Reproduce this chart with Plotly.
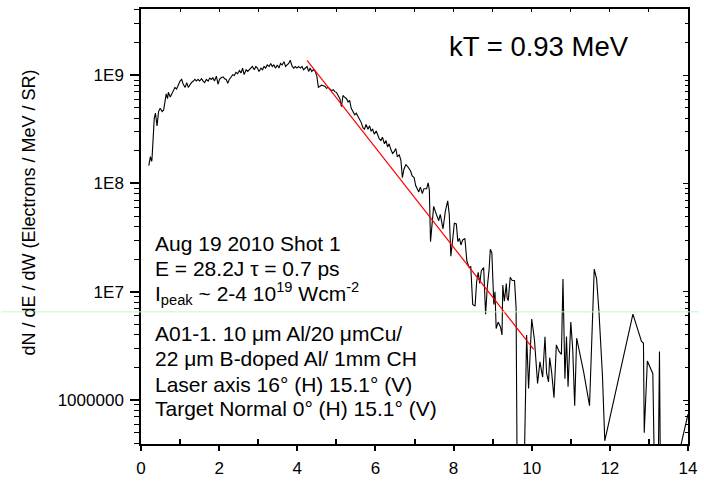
import plotly.graph_objects as go

# ---- data ----
energy_mev = [
    0.20,0.24,0.27,0.28,0.34,0.37,0.41,0.45,0.49,0.54,
    0.58,0.62,0.645,0.68,0.70,0.75,0.79,0.83,0.87,0.91,
    0.96,1.00,1.04,1.08,1.13,1.17,1.21,1.25,1.29,1.34,
    1.38,1.42,1.46,1.50,1.55,1.59,1.63,1.67,1.72,1.76,
    1.80,1.84,1.88,1.93,1.97,2.01,2.05,2.10,2.14,2.18,
    2.22,2.26,2.31,2.35,2.39,2.43,2.47,2.52,2.56,2.60,
    2.64,2.69,2.73,2.77,2.81,2.85,2.90,2.94,2.98,3.02,
    3.07,3.11,3.15,3.19,3.23,3.28,3.32,3.36,3.40,3.44,
    3.49,3.53,3.57,3.61,3.66,3.70,3.74,3.78,3.82,3.87,
    3.91,3.95,3.99,4.03,4.08,4.12,4.16,4.20,4.25,4.29,
    4.33,4.37,4.41,4.46,4.50,4.54,4.58,4.62,4.67,4.71,
    4.75,4.79,4.84,4.88,4.92,4.96,5.00,5.05,5.09,5.13,
    5.17,5.21,5.26,5.30,5.34,5.38,5.43,5.47,5.51,5.55,
    5.59,5.64,5.68,5.72,5.76,5.81,5.85,5.89,5.93,5.97,
    6.02,6.06,6.10,6.14,6.18,6.23,6.27,6.31,6.35,6.40,
    6.44,6.48,6.52,6.56,6.61,6.65,6.69,6.73,6.78,6.82,
    6.86,6.90,6.94,6.99,7.03,7.07,7.11,7.15,7.20,7.24,
    7.31,7.35,7.38,7.41,7.45,7.49,7.56,7.62,7.66,7.73,
    7.79,7.85,7.89,7.93,7.98,8.02,8.07,8.11,8.15,8.19,
    8.23,8.29,8.34,8.40,8.44,8.49,8.55,8.59,8.63,8.67,
    8.71,8.77,8.82,8.86,8.91,8.94,8.98,9.03,9.06,9.09,
    9.14,9.20,9.24,9.26,9.30,9.35,9.37,9.40,9.45,9.50,
    9.56,9.60,9.65,9.74,9.87,9.92,10.00,10.07,10.15,10.21,
    10.28,10.34,10.38,10.43,10.46,10.51,10.57,10.63,10.70,10.76,
    10.80,10.85,10.89,10.93,11.00,11.05,11.10,11.15,11.33,11.48,
    11.60,11.66,11.72,11.81,11.87,12.59,12.81,12.86,12.88,12.96,
    13.10,13.20,13.27,13.32,13.75,14.00,
]

electrons = [
    1.46e8,1.77e8,1.6e8,1.65e8,4.0e8,4.45e8,3.4e8,4.6e8,4.93e8,4.6e8,
    4.77e8,5.65e8,6.7e8,6.05e8,6.93e8,6.26e8,6.7e8,7.43e8,7.7e8,7.43e8,
    8.23e8,8.81e8,9.12e8,8.23e8,7.7e8,8.51e8,7.7e8,8.23e8,8.51e8,8.81e8,
    9.12e8,8.81e8,9.12e8,8.81e8,9.25e8,8.81e8,8.51e8,9.12e8,8.81e8,9.38e8,
    9.12e8,9.44e8,8.81e8,9.77e8,8.23e8,9.12e8,9.44e8,9.63e8,9.25e8,9.12e8,
    8.4e8,9.12e8,9.77e8,1.01e9,9.91e8,1.06e9,1.03e9,1.1e9,1.045e9,1.16e9,
    1.01e9,1.12e9,1.08e9,1.12e9,1.16e9,1.2e9,1.12e9,1.2e9,1.16e9,1.08e9,
    1.16e9,1.12e9,1.2e9,1.16e9,1.24e9,1.2e9,1.28e9,1.2e9,1.24e9,1.16e9,
    1.24e9,1.16e9,1.28e9,1.24e9,1.33e9,1.2e9,1.24e9,1.28e9,1.37e9,1.2e9,
    1.16e9,1.2e9,1.16e9,1.2e9,1.16e9,1.2e9,1.12e9,1.16e9,1.2e9,1.08e9,
    1.16e9,1.08e9,1.12e9,1.08e9,9.77e8,7.7e8,7.96e8,8.06e8,7.96e8,7.85e8,
    7.54e8,7.7e8,7.43e8,7.18e8,7.33e8,7.03e8,6.93e8,6.48e8,6.05e8,5.1e8,
    6.48e8,6.26e8,6.05e8,5.65e8,5.85e8,4.93e8,4.6e8,4.3e8,4.45e8,4.16e8,
    4.0e8,3.62e8,3.27e8,3.16e8,3.5e8,3.16e8,3.4e8,3.05e8,3.16e8,2.85e8,
    3.05e8,2.75e8,2.57e8,2.49e8,2.67e8,2.32e8,2.49e8,2.17e8,2.32e8,2.03e8,
    1.89e8,1.96e8,2.1e8,1.77e8,1.83e8,1.65e8,1.13e8,1.35e8,1.49e8,1.44e8,
    1.35e8,1.3e8,1.17e8,1.13e8,9.55e7,8.93e7,8.34e7,9.23e7,8.06e7,8.93e7,
    8.93e7,1.01e8,8.65e7,2.9e7,4.22e7,6.14e7,5.18e7,4.52e7,5.18e7,3.81e7,
    5.55e7,6.9e7,5.18e7,2.13e7,3.1e7,4.28e7,4.22e7,2.9e7,3.1e7,2.7e7,
    2.99e7,3.1e7,1.92e7,1.67e7,1.7e7,7.62e6,7.36e6,1.23e7,1.51e7,1.19e7,
    1.56e7,1.67e7,6.2e6,1.07e7,1.62e7,2.47e7,2.28e7,7.62e6,1.0e7,4.57e6,
    5.24e6,4.73e6,3.99e6,1.15e7,8.17e6,1.19e7,8.75e6,8.28e6,1.36e7,1.27e7,
    1.27e7,7.13e6,1e4,1e4,3.99e6,1.28e6,5.6e6,3.6e6,1.42e6,2.25e6,
    1.63e6,3.83e6,1.78e6,1.47e6,2.46e6,1.81e6,1.05e6,3.23e6,2.81e6,2.63e6,
    1.31e7,1.57e6,3.85e6,1.33e6,5.24e6,2.93e6,8.87e5,3.72e6,1.81e6,8.87e5,
    1.62e7,1.32e7,6.65e6,1.7e6,4.2e5,6.21e6,3.47e6,3.36e6,5.0e5,2.29e6,
    1.75e6,1e4,2.81e6,1e4,3e5,7.4e5,
]

if len(energy_mev) != len(electrons):
    raise ValueError(f"length mismatch {len(energy_mev)} vs {len(electrons)}")

fit_energy = [4.25, 10.05]
fit_electrons = [1.37e9, 2.93e6]

x_tick_vals = [0, 2, 4, 6, 8, 10, 12, 14]
x_minor_vals = [1, 3, 5, 7, 9, 11, 13]
y_tick_vals = [1e6, 1e7, 1e8, 1e9]
y_tick_text = ["1000000", "1E7", "1E8", "1E9"]
y_minor_vals = [k * 10 ** d for d in range(5, 10) for k in range(2, 10)]

info_lines = [
    "Aug 19 2010 Shot 1",
    "E = 28.2J \u03c4 = 0.7 ps",
    "I<sub>peak</sub> ~ 2-4 10<sup>19</sup> Wcm<sup>-2</sup>",
    "A01-1. 10 \u03bcm Al/20 \u03bcmCu/",
    "22 \u03bcm B-doped Al/ 1mm CH",
    "Laser axis 16\u00b0 (H) 15.1\u00b0 (V)",
    "Target Normal 0\u00b0 (H) 15.1\u00b0 (V)",
]
info_centers_px = [250, 276.5, 302, 343.5, 369, 396, 421.5]

# ---- layout geometry ----
W, H = 704, 485
ML, MR, MT, MB = 141, 11, 7, 27
PW, PH = W - ML - MR, H - MT - MB
Y_RANGE = [5.594, 9.61]
FONT = "Liberation Sans, Arial, sans-serif"


def px_to_paper_x(px):
    return (px - ML) / PW


def px_to_paper_y(py):
    return (H - MB - py) / PH


fig = go.Figure()
fig.add_trace(go.Scatter(x=energy_mev, y=electrons, mode="lines",
                         line=dict(color="black", width=1.1), showlegend=False,
                         hoverinfo="skip"))
fig.add_trace(go.Scatter(x=fit_energy, y=fit_electrons, mode="lines",
                         line=dict(color="red", width=1.2), showlegend=False,
                         hoverinfo="skip"))
# dummy trace to activate overlay axes (top/right inner ticks)
fig.add_trace(go.Scatter(x=[None], y=[None], xaxis="x2", yaxis="y2",
                         showlegend=False, hoverinfo="skip"))

fig.update_layout(
    width=W, height=H,
    margin=dict(l=ML, r=MR, t=MT, b=MB, pad=0),
    paper_bgcolor="white", plot_bgcolor="white",
    font=dict(family=FONT, color="black", size=17),
    showlegend=False,
    xaxis=dict(range=[0, 14], tickmode="array", tickvals=x_tick_vals,
               ticks="outside", ticklen=5, tickwidth=1.5, tickcolor="black",
               showgrid=False, zeroline=False, showline=True, linewidth=1.5,
               linecolor="black", mirror=True, ticklabelstandoff=3,
               tickfont=dict(family=FONT, size=17, color="black"),
               minor=dict(tickmode="array", tickvals=x_minor_vals, ticks="inside",
                          ticklen=5, tickwidth=1.5, tickcolor="black", showgrid=False)),
    yaxis=dict(type="log", range=Y_RANGE, tickmode="array", tickvals=y_tick_vals,
               ticktext=y_tick_text, ticks="outside", ticklen=9, tickwidth=1.5,
               tickcolor="black", showgrid=False, zeroline=False, showline=True,
               linewidth=1.5, linecolor="black", mirror=True, ticklabelstandoff=3,
               tickfont=dict(family=FONT, size=17, color="black"),
               minor=dict(tickmode="array", tickvals=y_minor_vals, ticks="outside",
                          ticklen=5, tickwidth=1.2, tickcolor="black", showgrid=False)),
    xaxis2=dict(overlaying="x", side="top", range=[0, 14], tickmode="array",
                tickvals=list(range(0, 15)), ticks="inside", ticklen=3,
                tickwidth=1.2, tickcolor="black", showticklabels=False,
                showgrid=False, zeroline=False, showline=False),
    yaxis2=dict(overlaying="y", side="right", type="log", range=Y_RANGE,
                tickmode="array", tickvals=y_tick_vals, ticks="inside", ticklen=5,
                tickwidth=1.2, tickcolor="black", showticklabels=False,
                showgrid=False, zeroline=False, showline=False,
                minor=dict(tickmode="array", tickvals=y_minor_vals, ticks="inside",
                           ticklen=3, tickwidth=1.0, tickcolor="black")),
)

annotations = []
annotations.append(dict(text="kT = 0.93 MeV", xref="paper", yref="paper",
                        x=px_to_paper_x(543), y=px_to_paper_y(46),
                        xanchor="center", yanchor="middle", showarrow=False,
                        font=dict(family=FONT, size=27.5, color="black")))
for line, cy in zip(info_lines, info_centers_px):
    annotations.append(dict(text=line, xref="paper", yref="paper",
                            x=px_to_paper_x(153), y=px_to_paper_y(cy),
                            xanchor="left", yanchor="middle", showarrow=False,
                            font=dict(family=FONT, size=21, color="black")))
annotations.append(dict(text="dN / dE / dW (Electrons / MeV / SR)", xref="paper",
                        yref="paper", x=px_to_paper_x(27), y=px_to_paper_y(218),
                        xanchor="center", yanchor="middle", textangle=-90,
                        showarrow=False, font=dict(family=FONT, size=18, color="black")))
fig.update_layout(annotations=annotations)

# faint green horizontal line seen across the reference image
fig.add_shape(type="line", xref="paper", yref="paper",
              x0=px_to_paper_x(0), x1=px_to_paper_x(W), y0=px_to_paper_y(321),
              y1=px_to_paper_y(321), line=dict(color="#c8f5c8", width=1), layer="above")

fig.write_html("out.html",
               config={"displayModeBar": False},
               post_script="document.body.style.margin='0px';"
                           "document.body.style.overflow='hidden';")
